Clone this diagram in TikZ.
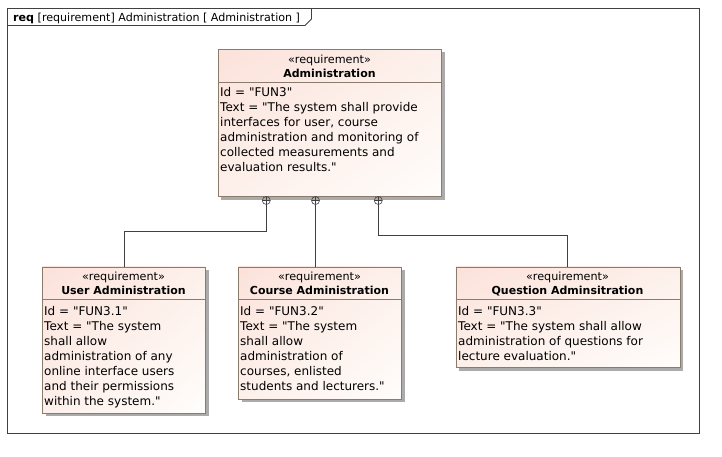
\documentclass[tikz,border=0pt]{standalone}
\usepackage{fontspec}
\setmainfont{DejaVu Sans}[Ligatures=TeXOff]
\usetikzlibrary{shadings}
\definecolor{framecol}{HTML}{404040}
\definecolor{boxborder}{HTML}{8A7B6C}
\definecolor{shadowcol}{HTML}{ABABAB}
\definecolor{pinkA}{HTML}{FBE2DA}
\definecolor{pinkB}{HTML}{FDF0EB}
\definecolor{pinkC}{HTML}{FFFDFB}
\tikzset{
  reqbox/.style={draw=boxborder, line width=0.9pt, rectangle, inner sep=0pt,
    anchor=north west, shade, upper left=pinkA, upper right=pinkB, lower left=pinkB, lower right=pinkC},
  stereo/.style={font=\fontsize{11.2}{12}\selectfont, anchor=base, inner sep=0pt},
  rtitle/.style={font=\fontsize{11}{12}\bfseries\selectfont, anchor=base, inner sep=0pt},
  body/.style={font=\fontsize{12}{15}\selectfont, anchor=base west, align=left, inner sep=0pt},
  conn/.style={draw=framecol, line width=0.9pt},
  own/.style={circle, draw=framecol, line width=0.6pt, minimum size=8pt, inner sep=0pt,
    path picture={\draw[framecol, line width=0.6pt] (path picture bounding box.north) -- (path picture bounding box.south)
      (path picture bounding box.west) -- (path picture bounding box.east);}},
}
\begin{document}
\begin{tikzpicture}[x=1pt, y=-1pt]
\useasboundingbox[fill=white] (0,0) rectangle (722,456);
% frame
\draw[framecol, line width=0.9pt] (7.5,8) rectangle (699,433);
\draw[framecol, line width=0.9pt] (7.5,25.5) -- (305,25.5) -- (311.5,19) -- (311.5,8);
\node[anchor=base west, inner sep=0pt, font=\fontsize{11.1}{12}\selectfont] (title) at (13,21)
  {\textbf{req} [requirement] Administration [ Administration ]};

% Administration
\fill[shadowcol] (221,52) rectangle (444.5,199.5);
\node[reqbox, minimum width=223pt, minimum height=147pt] (adm) at (218,49) {};
\draw[boxborder, line width=0.9pt] (218,82) -- (441,82);
\node[stereo] (admS) at (329.5,63) {«requirement»};
\node[rtitle] (admT) at (329.5,77) {Administration};
\node[body] (admB) at (220,171) {Id = "FUN3"\\Text = "The system shall provide\\interfaces for user, course\\administration and monitoring of\\collected measurements and\\evaluation results."};

% User Administration
\fill[shadowcol] (45.5,270) rectangle (208.5,415.5);
\node[reqbox, minimum width=163pt, minimum height=146pt] (ua) at (42,266.5) {};
\draw[boxborder, line width=0.9pt] (42,299.5) -- (205,299.5);
\node[stereo] (uaS) at (123.5,280) {«requirement»};
\node[rtitle] (uaT) at (123.5,294) {User Administration};
\node[body] (uaB) at (44,405) {Id = "FUN3.1"\\Text = "The system\\shall allow\\administration of any\\online interface users\\and their permissions\\within the system."};

% Course Administration
\fill[shadowcol] (241.5,270) rectangle (404.5,401.5);
\node[reqbox, minimum width=163pt, minimum height=132pt] (ca) at (238,266.5) {};
\draw[boxborder, line width=0.9pt] (238,299.5) -- (401,299.5);
\node[stereo] (caS) at (319.5,280) {«requirement»};
\node[rtitle] (caT) at (319.5,294) {Course Administration};
\node[body] (caB) at (240,390) {Id = "FUN3.2"\\Text = "The system\\shall allow\\administration of\\courses, enlisted\\students and lecturers."};

% Question Adminsitration
\fill[shadowcol] (459,270) rectangle (683,370.5);
\node[reqbox, minimum width=224pt, minimum height=100.5pt] (qa) at (455.5,266.5) {};
\draw[boxborder, line width=0.9pt] (455.5,299.5) -- (679.5,299.5);
\node[stereo] (qaS) at (567.5,280) {«requirement»};
\node[rtitle] (qaT) at (567.5,294) {Question Adminsitration};
\node[body] (qaB) at (458,360) {Id = "FUN3.3"\\Text = "The system shall allow\\administration of questions for\\lecture evaluation."};

% ownership markers
\node[own] (o1) at (266.3,200.5) {};
\node[own] (o2) at (315.5,200.5) {};
\node[own] (o3) at (378.3,200.5) {};

% connectors
\draw[conn] (o1.south) -- (o1.south |- 0,231.5) -| (ua.north);
\draw[conn] (o2.south) -- (o2.south |- ca.north);
\draw[conn] (o3.south) -- (o3.south |- 0,235.5) -| (qa.north -| 567.3,0);
\end{tikzpicture}
\end{document}
